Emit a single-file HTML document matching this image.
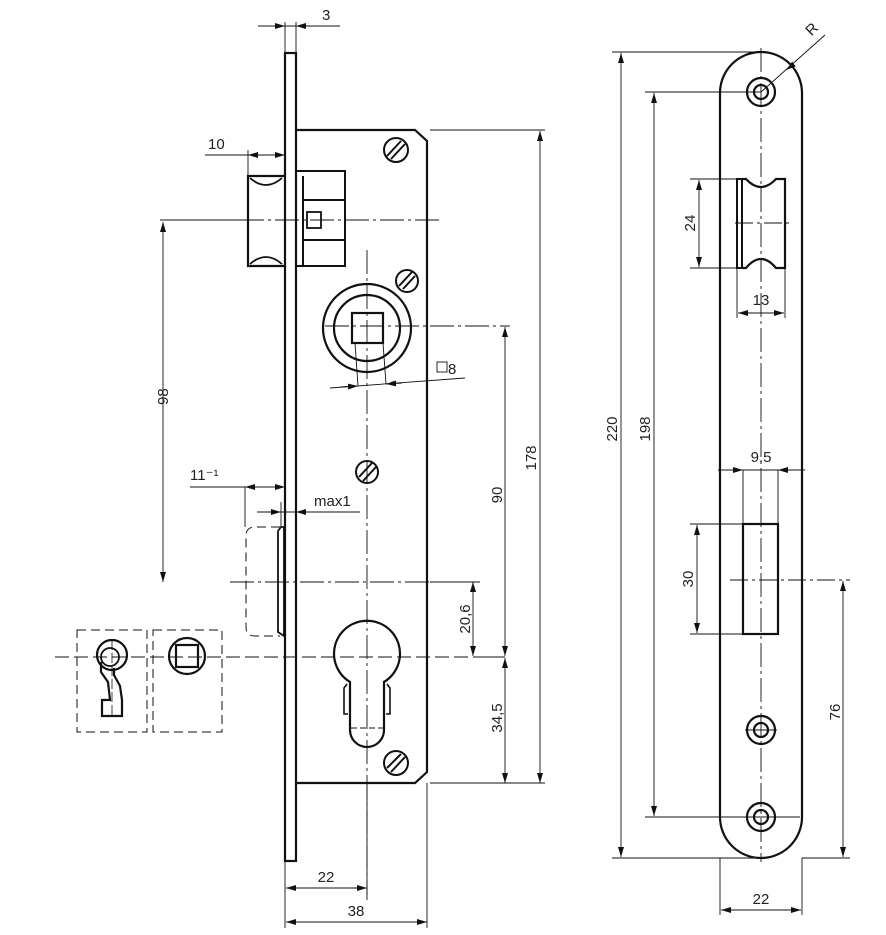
<!DOCTYPE html>
<html><head><meta charset="utf-8"><style>
html,body{margin:0;padding:0;background:#fff;}
svg{display:block}
text{font-family:"Liberation Sans","DejaVu Sans",sans-serif;font-size:15px;fill:#222}
</style></head><body>
<svg width="886" height="935" viewBox="0 0 886 935" xmlns="http://www.w3.org/2000/svg">
<defs>
<marker id="a" viewBox="0 0 10 6" refX="10" refY="3" markerWidth="10" markerHeight="6" orient="auto-start-reverse" markerUnits="userSpaceOnUse"><path d="M0,0 L10,3 L0,6 z" fill="#111"/></marker>
</defs>
<g fill="none" stroke="#111">
<g stroke-width="0.9" stroke-dasharray="24,4,3,4">
<line x1="367" y1="250" x2="367" y2="900"/>
<line x1="240" y1="220" x2="440" y2="220"/>
<line x1="325" y1="326" x2="510" y2="326"/>
<line x1="230" y1="582" x2="475" y2="582"/>
</g>
<line x1="55" y1="657" x2="505" y2="657" stroke-width="0.9" stroke-dasharray="14,5"/>
<rect x="285" y="53" width="11" height="808" stroke-width="2.2"/>
<path d="M296,130 L415,130 L427,141 L427,772 L415,783 L296,783" stroke-width="2.2"/>
<path d="M285,176 L248,176 L248,266 L285,266" stroke-width="2.2"/>
<path d="M250,178 Q266,192 282,178 M250,264 Q266,250 282,264" stroke-width="1.8"/>
<path d="M296,171 L345,171 L345,266 L296,266 M303,176 L303,266 M303,200 L345,200 M303,240 L345,240" stroke-width="2"/>
<rect x="307" y="212" width="14" height="16" stroke-width="1.8"/>
<g stroke-width="2">
<circle cx="396" cy="150" r="12"/><path d="M387,156 L401,141 M391,159 L405,144"/>
<circle cx="407" cy="281" r="11"/><path d="M399,286 L412,272 M403,289 L415,276"/>
<circle cx="367" cy="472" r="11"/><path d="M359,477 L372,463 M363,481 L376,467"/>
<circle cx="396" cy="763" r="12"/><path d="M387,768 L401,754 M391,772 L405,757"/>
</g>
<circle cx="367" cy="328" r="44" stroke-width="2.2"/>
<circle cx="367" cy="328" r="33" stroke-width="2.2"/>
<rect x="352" y="313" width="31" height="30" stroke-width="2.2"/>
<path d="M355,343 L358,386 M383,343 L386,384" stroke-width="0.9"/>
<line x1="330" y1="388" x2="465" y2="378" stroke-width="0.9"/>
<path d="M340,387 L358,386" stroke-width="0.9" marker-end="url(#a)"/>
<path d="M402,383 L386,384" stroke-width="0.9" marker-end="url(#a)"/>
<rect x="437" y="362" width="10" height="10" stroke-width="0.9"/>
<!-- cylinder -->
<path d="M350,682 A33,33 0 1 1 384,682 L384,730 A17,17 0 0 1 350,730 Z" stroke-width="2.2"/>
<path d="M347,684 L344,688 L344,714 L348,714 M387,684 L390,688 L390,714 L386,714" stroke-width="1.6"/>
<line x1="351" y1="728" x2="383" y2="728" stroke-width="0.9" stroke-dasharray="6,3"/>
<path d="M280,527 L255,527 Q246,527 246,536 L246,627 Q246,636 255,636 L280,636" stroke-width="1" stroke-dasharray="9,5"/>
<path d="M281,527 L284,527 L284,636 L278,632 L278,531 Z" stroke-width="1.8"/>
<g stroke-width="1" stroke-dasharray="9,5">
<rect x="77" y="630" width="70" height="102"/>
<rect x="153" y="630" width="69" height="102"/>
</g>
<circle cx="112" cy="655" r="15" stroke-width="2.2"/>
<circle cx="110" cy="657" r="9" stroke-width="1.8"/>
<path d="M101,662 L101,672 L108,682 L110,700 L102,700 L102,716 L122,716 L122,700 L120,686 L114,675 L114,668" stroke-width="2.2"/>
<line x1="112" y1="640" x2="112" y2="716" stroke-width="0.8" stroke-dasharray="10,3"/>
<circle cx="187" cy="656" r="18" stroke-width="2.2"/>
<rect x="176" y="645" width="22" height="22" stroke-width="2.2"/>
<g stroke-width="0.9">
<path d="M285,22 L285,53 M296,22 L296,53 M258,26 L340,26"/>
<path d="M265,26 L285,26" marker-end="url(#a)"/><path d="M316,26 L296,26" marker-end="url(#a)"/>
<path d="M248,150 L248,176 M205,155 L285,155"/>
<path d="M262,155 L248,155" marker-end="url(#a)"/><path d="M270,155 L285,155" marker-end="url(#a)"/>
<path d="M163,222 L163,582" marker-start="url(#a)" marker-end="url(#a)"/>
<path d="M160,220 L240,220"/>
<path d="M190,487 L285,487 M245,487 L245,527"/>
<path d="M260,487 L245,487" marker-end="url(#a)"/><path d="M270,487 L285,487" marker-end="url(#a)"/>
<path d="M257,512 L360,512 M281,502 L281,527"/>
<path d="M270,512 L281,512" marker-end="url(#a)"/><path d="M303,512 L296,512" marker-end="url(#a)"/>
<path d="M430,130 L545,130 M430,783 L545,783 M430,582 L480,582 M505,657 L475,657"/>
<path d="M540,131 L540,783" marker-start="url(#a)" marker-end="url(#a)"/>
<path d="M505,327 L505,656" marker-start="url(#a)" marker-end="url(#a)"/>
<path d="M505,658 L505,783" marker-start="url(#a)" marker-end="url(#a)"/>
<path d="M473,582 L473,656" marker-start="url(#a)" marker-end="url(#a)"/>
<path d="M285,861 L285,928 M427,783 L427,928 M367,783 L367,895"/>
<path d="M286,888 L367,888" marker-start="url(#a)" marker-end="url(#a)"/>
<path d="M286,922 L427,922" marker-start="url(#a)" marker-end="url(#a)"/>
</g>
<path d="M720,93 A41,41 0 0 1 802,93 L802,817 A41,41 0 0 1 720,817 Z" stroke-width="2.2"/>
<line x1="761" y1="48" x2="761" y2="862" stroke-width="0.9" stroke-dasharray="24,4,3,4"/>
<g stroke-width="2.2">
<circle cx="761" cy="92" r="14"/><circle cx="761" cy="92" r="7"/>
<circle cx="761" cy="730" r="14"/><circle cx="761" cy="730" r="7"/>
<circle cx="761" cy="817" r="14"/><circle cx="761" cy="817" r="7"/>
</g>
<path d="M737,179 L742,179 L742,268 L737,268 Z" stroke-width="2"/>
<path d="M742,179 L746,179 Q761,195 776,179 L785,179 L785,268 L776,268 Q761,250 746,268 L742,268" stroke-width="2.2"/>
<rect x="743" y="524" width="35" height="110" stroke-width="2.2"/>
<g stroke-width="0.9">
<path d="M735,223 L790,223 M730,580 L850,580" stroke-dasharray="18,4,3,4"/>
<path d="M745,730 L777,730 M745,817 L777,817"/>
<path d="M612,52 L761,52 M612,858 L761,858 M645,92 L761,92 M645,817 L800,817"/>
<path d="M621,53 L621,857" marker-start="url(#a)" marker-end="url(#a)"/>
<path d="M654,93 L654,816" marker-start="url(#a)" marker-end="url(#a)"/>
<path d="M690,179 L737,179 M690,268 L737,268"/>
<path d="M699,180 L699,267" marker-start="url(#a)" marker-end="url(#a)"/>
<path d="M737,268 L737,318 M785,268 L785,318 M738,313 L784,313" />
<path d="M750,313 L738,313" marker-end="url(#a)"/><path d="M772,313 L784,313" marker-end="url(#a)"/>
<path d="M743,470 L743,524 M778,470 L778,524 M718,470 L805,470"/>
<path d="M730,470 L743,470" marker-end="url(#a)"/><path d="M792,470 L778,470" marker-end="url(#a)"/>
<path d="M690,524 L743,524 M690,634 L743,634"/>
<path d="M697,525 L697,633" marker-start="url(#a)" marker-end="url(#a)"/>
<path d="M802,858 L850,858"/>
<path d="M843,581 L843,857" marker-start="url(#a)" marker-end="url(#a)"/>
<path d="M720,858 L720,915 M802,858 L802,915"/>
<path d="M721,910 L801,910" marker-start="url(#a)" marker-end="url(#a)"/>
<path d="M761,92 L825,35"/>
<path d="M790,67 L786,70" marker-end="url(#a)"/>
</g>
</g>
<text x="322" y="20">3</text>
<text x="208" y="149">10</text>
<text x="158" y="415" transform="rotate(-90 158 405)">98</text>
<text x="190" y="480">11⁻¹</text>
<text x="314" y="506">max1</text>
<text x="448" y="374">8</text>
<text x="497" y="500" transform="rotate(-90 497 495)" text-anchor="middle">90</text>
<text x="531" y="463" transform="rotate(-90 531 458)" text-anchor="middle">178</text>
<text x="465" y="624" transform="rotate(-90 465 619)" text-anchor="middle">20,6</text>
<text x="497" y="723" transform="rotate(-90 497 718)" text-anchor="middle">34,5</text>
<text x="326" y="882" text-anchor="middle">22</text>
<text x="356" y="916" text-anchor="middle">38</text>
<text x="612" y="434" transform="rotate(-90 612 429)" text-anchor="middle">220</text>
<text x="645" y="434" transform="rotate(-90 645 429)" text-anchor="middle">198</text>
<text x="690" y="228" transform="rotate(-90 690 223)" text-anchor="middle">24</text>
<text x="761" y="305" text-anchor="middle">13</text>
<text x="761" y="462" text-anchor="middle">9,5</text>
<text x="688" y="584" transform="rotate(-90 688 579)" text-anchor="middle">30</text>
<text x="835" y="717" transform="rotate(-90 835 712)" text-anchor="middle">76</text>
<text x="761" y="904" text-anchor="middle">22</text>
<text x="808" y="38" transform="rotate(-45 808 33)">R</text>
</svg>
</body></html>
